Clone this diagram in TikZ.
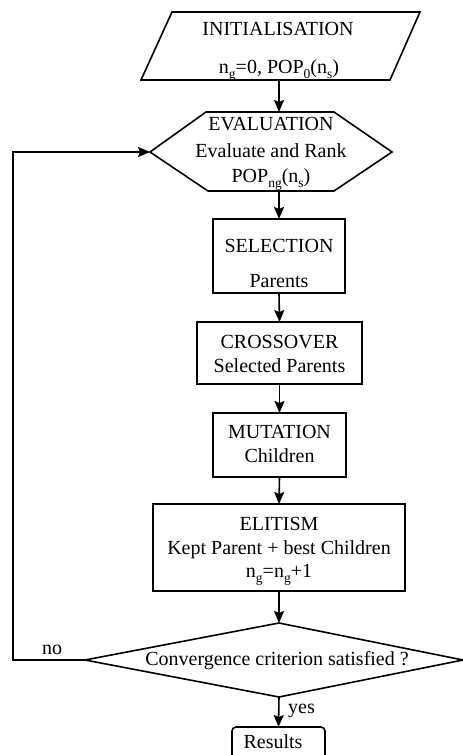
\documentclass[tikz,border=0pt]{standalone}
\usepackage{fontspec}
\setmainfont{Liberation Serif}
\usetikzlibrary{arrows.meta}
\newcommand\mysub[1]{\raisebox{-0.28em}{\fontsize{13.5}{13.5}\selectfont #1}}
\begin{document}
\begin{tikzpicture}[x=1pt,y=-1pt,
  lw/.style={line width=1.6pt},
  arr/.style={lw,-{Stealth[length=12pt,width=10pt,inset=2pt]}},
  boxnode/.style={draw,lw,inner sep=0pt,outer sep=0pt},
  txt/.style={font=\fontsize{20}{23}\selectfont,inner sep=0pt,anchor=base}]
\useasboundingbox (0,0) rectangle (463,755);
% initialisation parallelogram
\draw[lw] (172,12) -- (420,12) -- (390,80) -- (141,80) -- cycle;
\coordinate (initB) at (279,80);
\node[txt] (t1) at (278,35) {INITIALISATION};
\node[txt] (t2) at (279,73) {n\mysub{g}=0, POP\mysub{0}(n\mysub{s})};
% evaluation hexagon
\draw[lw] (150,152) -- (206,112) -- (334,112) -- (392,152) -- (334,191) -- (208,191) -- cycle;
\coordinate (evalT) at (279,112);
\coordinate (evalB) at (279,191);
\coordinate (evalL) at (150,152);
\node[txt] (t3) at (271,130) {EVALUATION};
\node[txt] (t4) at (271,157) {Evaluate and Rank};
\node[txt] (t5) at (271,182) {POP\mysub{ng}(n\mysub{s})};
% selection
\node[boxnode,minimum width=132,minimum height=74] (sel) at (279,256) {};
\node[txt] (t6) at (279,252) {SELECTION};
\node[txt] (t7) at (279,287) {Parents};
% crossover
\node[boxnode,minimum width=165,minimum height=62] (cross) at (279.5,353) {};
\node[txt] (t8) at (279.5,348) {CROSSOVER};
\node[txt] (t9) at (279.5,372) {Selected Parents};
% mutation
\node[boxnode,minimum width=133,minimum height=64] (mut) at (279.5,445) {};
\node[txt] (t10) at (279.5,438) {MUTATION};
\node[txt] (t11) at (279.5,462) {Children};
% elitism
\node[boxnode,minimum width=252,minimum height=87] (elit) at (279,547.5) {};
\node[txt] (t12) at (279,530) {ELITISM};
\node[txt] (t13) at (279,554) {Kept Parent + best Children};
\node[txt] (t14) at (279,577) {n\mysub{g}=n\mysub{g}+1};
% convergence diamond
\draw[lw] (279,623) -- (463,660) -- (279,697) -- (85,660) -- cycle;
\coordinate (decT) at (279,623);
\coordinate (decB) at (279,697);
\coordinate (decL) at (85,660);
\node[txt] (t15) at (277,665) {Convergence criterion satisfied ?};
% results
\node[boxnode,rounded corners=4pt,minimum width=93,minimum height=44] (res) at (278.5,749) {};
\node[txt] (t16) at (273,748) {Results};
% connectors
\draw[arr] (initB) -- (evalT);
\draw[arr] (evalB) -- (sel.north);
\draw[arr] (sel.south) -- (cross.north);
\draw[arr] (cross.south) -- (mut.north);
\draw[arr] (mut.south) -- (elit.north);
\draw[arr] (elit.south) -- (decT);
\draw[arr] (decB) -- (res.north);
\coordinate (loopB) at (13,660);
\coordinate (loopT) at (13,152);
\draw[arr] (decL) -- (loopB) -- (loopT) -- (evalL);
\node[txt] (no) at (52,654) {no};
\node[txt,anchor=base west] (yes) at (288,713) {yes};
\end{tikzpicture}
\end{document}
